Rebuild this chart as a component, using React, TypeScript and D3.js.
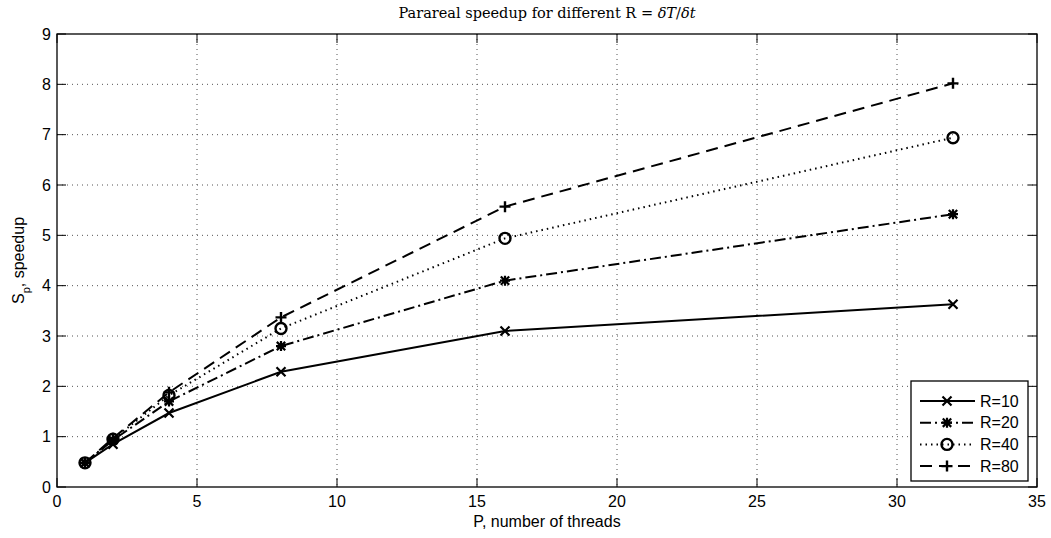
import React from "react";
import * as d3 from "d3";

const threads = [1, 2, 4, 8, 16, 32];
const r10 = [0.48, 0.85, 1.47, 2.29, 3.1, 3.63];
const r20 = [0.48, 0.93, 1.7, 2.8, 4.1, 5.42];
const r40 = [0.48, 0.95, 1.82, 3.15, 4.94, 6.94];
const r80 = [0.48, 0.97, 1.88, 3.37, 5.57, 8.02];
const seriesNames = ["R=10", "R=20", "R=40", "R=80"];
const xTicks = [0, 5, 10, 15, 20, 25, 30, 35];
const yTicks = [0, 1, 2, 3, 4, 5, 6, 7, 8, 9];

const W = 1051, H = 538;
const L = 57, R = 1037, T = 34, B = 487;

const x = d3.scaleLinear().domain([0, 35]).range([L, R]);
const y = d3.scaleLinear().domain([0, 9]).range([B, T]);

type Marker = "x" | "star" | "o" | "plus";
const styles: { dash: string; marker: Marker }[] = [
  { dash: "none", marker: "x" },
  { dash: "11 4 2 4", marker: "star" },
  { dash: "1.5 4", marker: "o" },
  { dash: "12 7", marker: "plus" },
];

function MarkerShape({ cx, cy, m }: { cx: number; cy: number; m: Marker }) {
  const s = 4.5;
  if (m === "x")
    return (
      <path d={`M${cx - s},${cy - s}L${cx + s},${cy + s}M${cx - s},${cy + s}L${cx + s},${cy - s}`} stroke="#000" strokeWidth={2.2} />
    );
  if (m === "plus")
    return (
      <path d={`M${cx - 5.5},${cy}L${cx + 5.5},${cy}M${cx},${cy - 5.5}L${cx},${cy + 5.5}`} stroke="#000" strokeWidth={2.4} />
    );
  if (m === "o") return <circle cx={cx} cy={cy} r={5.5} fill="none" stroke="#000" strokeWidth={2.4} />;
  const a = 4.2;
  return (
    <path
      d={`M${cx - 5},${cy}L${cx + 5},${cy}M${cx},${cy - 5}L${cx},${cy + 5}M${cx - a},${cy - a}L${cx + a},${cy + a}M${cx - a},${cy + a}L${cx + a},${cy - a}`}
      stroke="#000"
      strokeWidth={2.2}
    />
  );
}

export default function App() {
  const data = [r10, r20, r40, r80];
  const line = d3
    .line<number>()
    .x((_, i) => x(threads[i]))
    .y((d) => y(d));
  const font = "'Liberation Sans', Arial, Helvetica, sans-serif";
  const legTop = 389, legRow = 21.7;
  return (
    <svg width={W} height={H} style={{ position: "absolute", left: 0, top: 0, background: "#fff" }}>
      <rect width={W} height={H} fill="#fff" />
      {/* grid */}
      {xTicks.slice(1, -1).map((t) => (
        <line key={"gx" + t} x1={x(t)} x2={x(t)} y1={T} y2={B} stroke="#555" strokeWidth={1} strokeDasharray="1 4" />
      ))}
      {yTicks.slice(1, -1).map((t) => (
        <line key={"gy" + t} x1={L} x2={R} y1={y(t)} y2={y(t)} stroke="#555" strokeWidth={1} strokeDasharray="1 4" />
      ))}
      {/* ticks */}
      {xTicks.map((t) => (
        <g key={"tx" + t}>
          <line x1={x(t)} x2={x(t)} y1={B} y2={B - 9} stroke="#000" />
          <line x1={x(t)} x2={x(t)} y1={T} y2={T + 9} stroke="#000" />
          <text x={x(t)} y={B + 20} textAnchor="middle" fontFamily={font} fontSize={16}>
            {t}
          </text>
        </g>
      ))}
      {yTicks.map((t) => (
        <g key={"ty" + t}>
          <line x1={L} x2={L + 9} y1={y(t)} y2={y(t)} stroke="#000" />
          <line x1={R} x2={R - 9} y1={y(t)} y2={y(t)} stroke="#000" />
          <text x={L - 6} y={y(t) + 5.5} textAnchor="end" fontFamily={font} fontSize={16}>
            {t}
          </text>
        </g>
      ))}
      <rect x={L} y={T} width={R - L} height={B - T} fill="none" stroke="#000" strokeWidth={1.3} />
      {/* series */}
      {data.map((d, si) => (
        <g key={"s" + si}>
          <path d={line(d) || ""} fill="none" stroke="#000" strokeWidth={2} strokeDasharray={styles[si].dash} />
          {d.map((v, i) => (
            <MarkerShape key={i} cx={x(threads[i])} cy={y(v)} m={styles[si].marker} />
          ))}
        </g>
      ))}
      {/* legend */}
      <rect x={911} y={legTop - 8} width={117} height={100} fill="#fff" stroke="#000" strokeWidth={1.3} />
      {seriesNames.map((n, i) => {
        const cy = legTop + 12 + i * legRow;
        return (
          <g key={n}>
            <line x1={920} x2={975} y1={cy} y2={cy} stroke="#000" strokeWidth={2} strokeDasharray={styles[i].dash} />
            <MarkerShape cx={947} cy={cy} m={styles[i].marker} />
            <text x={980} y={cy + 5.5} fontFamily={font} fontSize={16}>
              {n}
            </text>
          </g>
        );
      })}
      {/* labels */}
      <text x={(L + R) / 2} y={527} textAnchor="middle" fontFamily={font} fontSize={16}>
        P, number of threads
      </text>
      <text transform={`translate(24,${(T + B) / 2}) rotate(-90)`} textAnchor="middle" fontFamily={font} fontSize={16}>
        S<tspan baselineShift="sub" fontSize={11}>p</tspan>, speedup
      </text>
      <text x={(L + R) / 2} y={18} textAnchor="middle" fontFamily="'DejaVu Serif', 'Liberation Serif', serif" fontSize={14.5}>
        Parareal speedup for different R = <tspan fontStyle="italic">δT</tspan>/<tspan fontStyle="italic">δt</tspan>
      </text>
    </svg>
  );
}
